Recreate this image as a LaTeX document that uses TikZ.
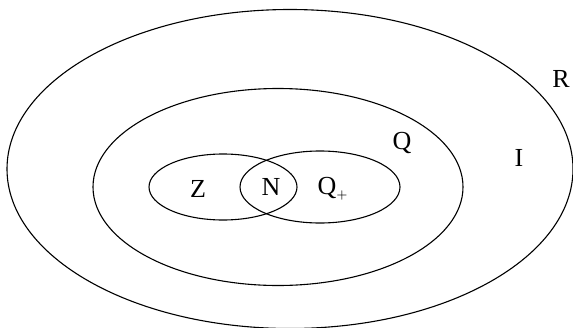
\documentclass[tikz,border=0pt]{standalone}
\usepackage{fontspec}
\setmainfont{Liberation Serif}
\usepackage{tikz}
\usetikzlibrary{positioning}

\begin{document}
\begin{tikzpicture}[
  x=0.5pt, y=-0.5pt,
  set/.style={draw=black, line width=0.55pt},
  lbl/.style={inner sep=0pt, font=\fontsize{13}{15}\selectfont}
]
\useasboundingbox (0,0) rectangle (573,327);
% the nested sets
\draw[set] (290,169) ellipse [x radius=283, y radius=159.5];
\draw[set] (278,187) ellipse [x radius=185, y radius=98.5];
\draw[set] (223,187) ellipse [x radius=74, y radius=33];
\draw[set] (320,187) ellipse [x radius=80, y radius=36];
% labels
\node[lbl] (lR)  at (561,79)  {R};
\node[lbl] (lI)  at (519,158) {I};
\node[lbl] (lQ)  at (402,143) {Q};
\node[lbl] (lZ)  at (198,189) {Z};
\node[lbl] (lN)  at (271,187) {N};
\node[lbl] (lQp) at (333,189) {Q$_{\scriptscriptstyle +}$};
\end{tikzpicture}
\end{document}
